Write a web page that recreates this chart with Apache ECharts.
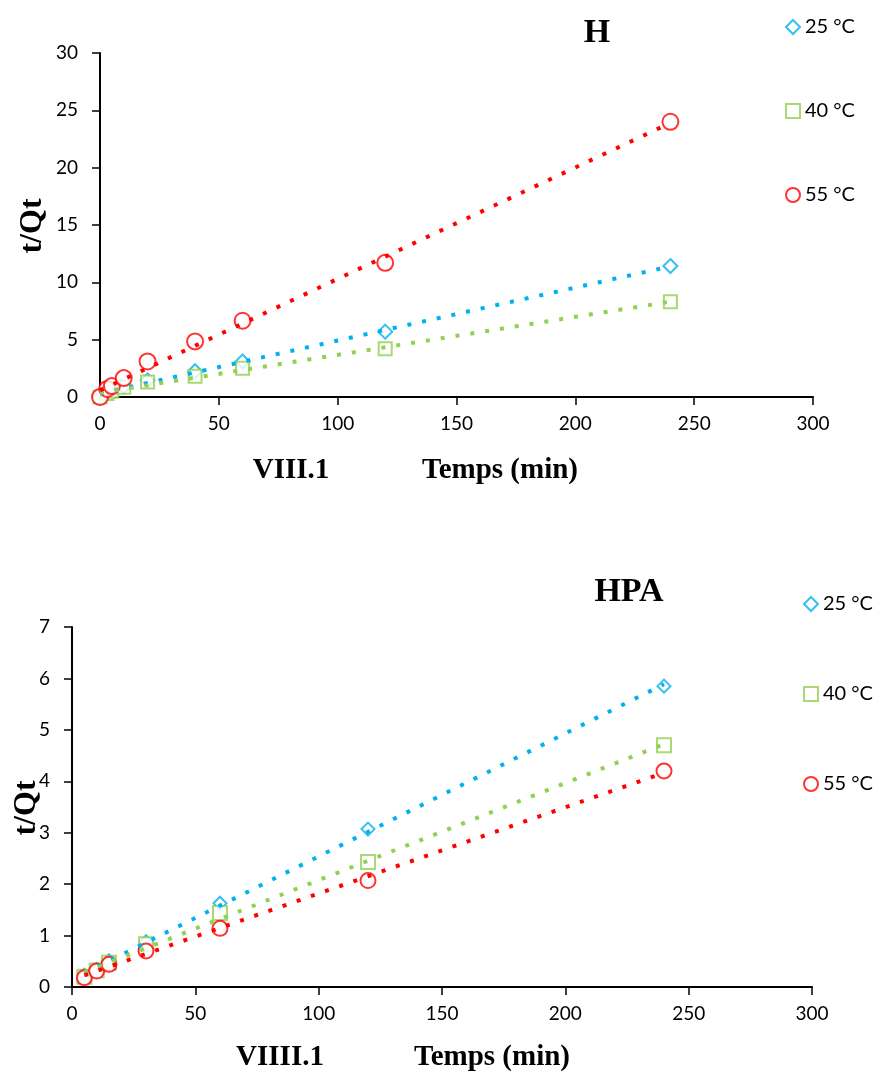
<!DOCTYPE html>
<html><head><meta charset="utf-8">
<script src="https://cdn.jsdelivr.net/npm/echarts@6/dist/echarts.min.js"></script>
<style>html,body{margin:0;padding:0;background:#fff}#c{width:876px;height:1078px}</style>
</head><body><div id="c"></div>
<script>
// ---- data ----
const seriesNames = ['25 °C', '40 °C', '55 °C'];
const seriesColors = ['#00B0F0', '#92D050', '#FF0000'];
const seriesSymbols = ['emptyDiamond', 'emptyRect', 'emptyCircle'];

const timeH = [0, 3, 5, 10, 20, 40, 60, 120, 240];
const h25 = [0, 0.35, 0.55, 0.9, 1.45, 2.25, 3.1, 5.7, 11.42];
const h40 = [0, 0.3, 0.5, 0.85, 1.3, 1.8, 2.5, 4.2, 8.3];
const h55 = [0, 0.7, 0.95, 1.65, 3.1, 4.85, 6.65, 11.7, 24.0];

const timeHPA = [5, 10, 15, 30, 60, 120, 240];
const hpa25 = [0.23, 0.34, 0.51, 0.88, 1.63, 3.07, 5.85];
const hpa40 = [0.2, 0.32, 0.47, 0.83, 1.44, 2.43, 4.70];
const hpa55 = [0.18, 0.31, 0.44, 0.70, 1.14, 2.07, 4.20];

const titles = ['H', 'HPA'];
const xLabels = ['VIII.1', 'VIIII.1'];
const xName = 'Temps (min)';
const yName = 't/Qt';

// ---- helpers ----
function pairs(xs, ys) { return xs.map((x, i) => [x, ys[i]]); }
function trend(xs, ys) {
  const n = xs.length;
  let sx = 0, sy = 0, sxx = 0, sxy = 0;
  for (let i = 0; i < n; i++) { sx += xs[i]; sy += ys[i]; sxx += xs[i] * xs[i]; sxy += xs[i] * ys[i]; }
  const b = (n * sxy - sx * sy) / (n * sxx - sx * sx);
  const a = (sy - b * sx) / n;
  const x0 = Math.min(...xs), x1 = Math.max(...xs);
  return [[x0, a + b * x0], [x1, a + b * x1]];
}

const tickFont = { fontFamily: 'Lato', fontSize: 19, color: '#000' };
function xAxis(gi) {
  return {
    gridIndex: gi, type: 'value', min: 0, max: 300, interval: 50,
    axisLine: { show: true, onZero: false, lineStyle: { color: '#000', width: 2 } },
    axisTick: { show: true, inside: false, length: 8, lineStyle: { color: '#000', width: 1.5 } },
    axisLabel: Object.assign({ margin: 17 }, tickFont),
    splitLine: { show: false }
  };
}
function yAxis(gi, max, interval) {
  return {
    gridIndex: gi, type: 'value', min: 0, max: max, interval: interval,
    axisLine: { show: true, onZero: false, lineStyle: { color: '#000', width: 2 } },
    axisTick: { show: true, inside: false, length: 8, lineStyle: { color: '#000', width: 1.5 } },
    axisLabel: Object.assign({ margin: 22 }, tickFont),
    splitLine: { show: false }
  };
}

const sets = [
  { gi: 0, xs: timeH, ys: [h25, h40, h55], sizes: [14, 13, 16] },
  { gi: 1, xs: timeHPA, ys: [hpa25, hpa40, hpa55], sizes: [13, 14, 15] }
];
const series = [];
sets.forEach(s => {
  s.ys.forEach((ys, k) => {
    series.push({
      type: 'line', name: seriesNames[k] + ' trend', xAxisIndex: s.gi, yAxisIndex: s.gi,
      data: trend(s.xs, ys), symbol: 'none', silent: true, z: 3,
      lineStyle: { color: seriesColors[k], width: 4, type: [4, 11] }
    });
  });
  s.ys.forEach((ys, k) => {
    series.push({
      type: 'scatter', name: seriesNames[k], xAxisIndex: s.gi, yAxisIndex: s.gi,
      data: pairs(s.xs, ys), symbol: seriesSymbols[k], symbolSize: s.sizes[k], z: 2,
      itemStyle: { color: seriesColors[k], borderColor: seriesColors[k], borderWidth: 2 }
    });
  });
});

function legend(left, top, gap) {
  return {
    data: seriesNames, orient: 'vertical', left: left, top: top, itemGap: gap,
    itemWidth: 14, itemHeight: 14, selectedMode: false,
    textStyle: { fontFamily: 'Lato', fontSize: 20, color: '#000', lineHeight: 22 }
  };
}

function txt(text, x, y, size, rot) {
  return {
    type: 'text', x: x, y: y, rotation: rot || 0,
    style: {
      text: text, fontFamily: '"Liberation Serif", "Times New Roman", serif', fontWeight: 'bold',
      fontSize: size, fill: '#000', align: 'center', verticalAlign: 'middle',
      textAlign: 'center', textVerticalAlign: 'middle'
    }
  };
}

const option = {
  backgroundColor: '#fff',
  animation: false,
  grid: [
    { left: 100, top: 53, width: 713, height: 344 },
    { left: 72, top: 627, width: 740, height: 360 }
  ],
  xAxis: [xAxis(0), xAxis(1)],
  yAxis: [yAxis(0, 30, 5), yAxis(1, 7, 1)],
  legend: [legend(780, 11, 62), legend(798, 588, 68)],
  graphic: [
    txt(titles[0], 597, 33, 34),
    txt(titles[1], 629, 592, 34),
    txt(xLabels[0], 291, 471, 29),
    txt(xName, 500, 471, 29),
    txt(xLabels[1], 280, 1058, 29),
    txt(xName, 492, 1058, 29),
    txt(yName, 33, 226, 32, Math.PI / 2),
    txt(yName, 27, 808, 32, Math.PI / 2)
  ],
  series: series
};
echarts.init(document.getElementById('c')).setOption(option);
</script>
</body></html>
